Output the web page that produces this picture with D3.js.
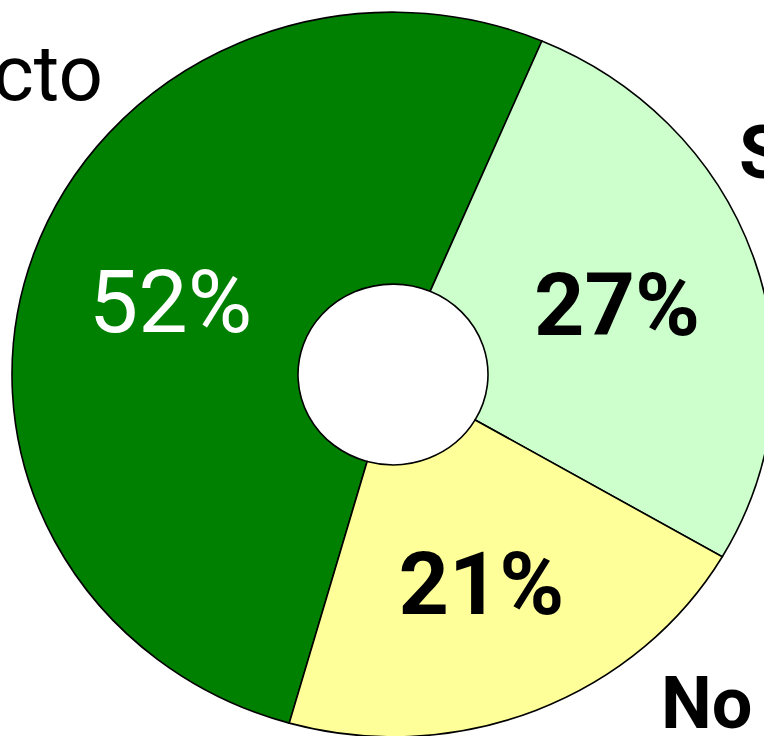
<!DOCTYPE html>
<html>
<head>
<meta charset="utf-8">
<script src="https://cdn.jsdelivr.net/npm/d3@7"></script>
<style>
  html, body { margin: 0; padding: 0; background: #fff; overflow: hidden; }
  .pct { font-family: Roboto, "Noto Sans", sans-serif; font-size: 88px; }
  .cat { font-family: Roboto, "Noto Sans", sans-serif; font-size: 74px; }
</style>
</head>
<body>
<svg id="chart"></svg>
<script>
// data
const categories = ['Incorrecto', 'Sí', 'No'];
const values = [52, 27, 21];
const pctLabels = ['52%', '27%', '21%'];
const colors = ['#008000', '#ccffcc', '#ffff99'];

const width = 764;
const height = 736;
const cx = 393;
const cy = 374.5;
const outerR = 381;
const innerR = 95;
const squash = 0.951; // chart is slightly wider than tall

const svg = d3.select('#chart')
  .attr('width', width)
  .attr('height', height);

const start = 195.8 * Math.PI / 180;
const pie = d3.pie()
  .sort(null)
  .startAngle(start)
  .endAngle(start + 2 * Math.PI);

const arcs = pie(values);

const arc = d3.arc()
  .innerRadius(innerR)
  .outerRadius(outerR);

const labelArc = d3.arc()
  .innerRadius(236)
  .outerRadius(236);

// slices, squashed vertically
const g = svg.append('g')
  .attr('transform', `translate(${cx},${cy}) scale(1,${squash})`);

g.selectAll('path')
  .data(arcs)
  .enter()
  .append('path')
  .attr('d', arc)
  .attr('fill', (d, i) => colors[i])
  .attr('stroke', '#000')
  .attr('stroke-width', 1.6)
  .attr('vector-effect', 'non-scaling-stroke');

// percentage labels inside the ring
const labels = svg.append('g')
  .attr('transform', `translate(${cx},${cy})`);

labels.selectAll('text')
  .data(arcs)
  .enter()
  .append('text')
  .attr('class', 'pct')
  .attr('x', d => labelArc.centroid(d)[0])
  .attr('y', d => labelArc.centroid(d)[1] * squash)
  .attr('dy', '0.36em')
  .attr('text-anchor', 'middle')
  .attr('fill', (d, i) => i === 0 ? '#fff' : '#000')
  .attr('font-weight', (d, i) => i === 0 ? 'normal' : 'bold')
  .text((d, i) => pctLabels[i]);

// category labels outside, partly cut off by the frame
const catPos = [
  { x: 103, y: 100, anchor: 'end', weight: 'normal', size: 78 },
  { x: 739, y: 178, anchor: 'start', weight: 'bold', size: 74 },
  { x: 661, y: 728, anchor: 'start', weight: 'bold', size: 72 }
];

svg.append('g')
  .selectAll('text')
  .data(categories)
  .enter()
  .append('text')
  .attr('class', 'cat')
  .attr('x', (d, i) => catPos[i].x)
  .attr('y', (d, i) => catPos[i].y)
  .attr('text-anchor', (d, i) => catPos[i].anchor)
  .attr('font-weight', (d, i) => catPos[i].weight)
  .style('font-size', (d, i) => catPos[i].size + 'px')
  .text(d => d);
</script>
</body>
</html>
